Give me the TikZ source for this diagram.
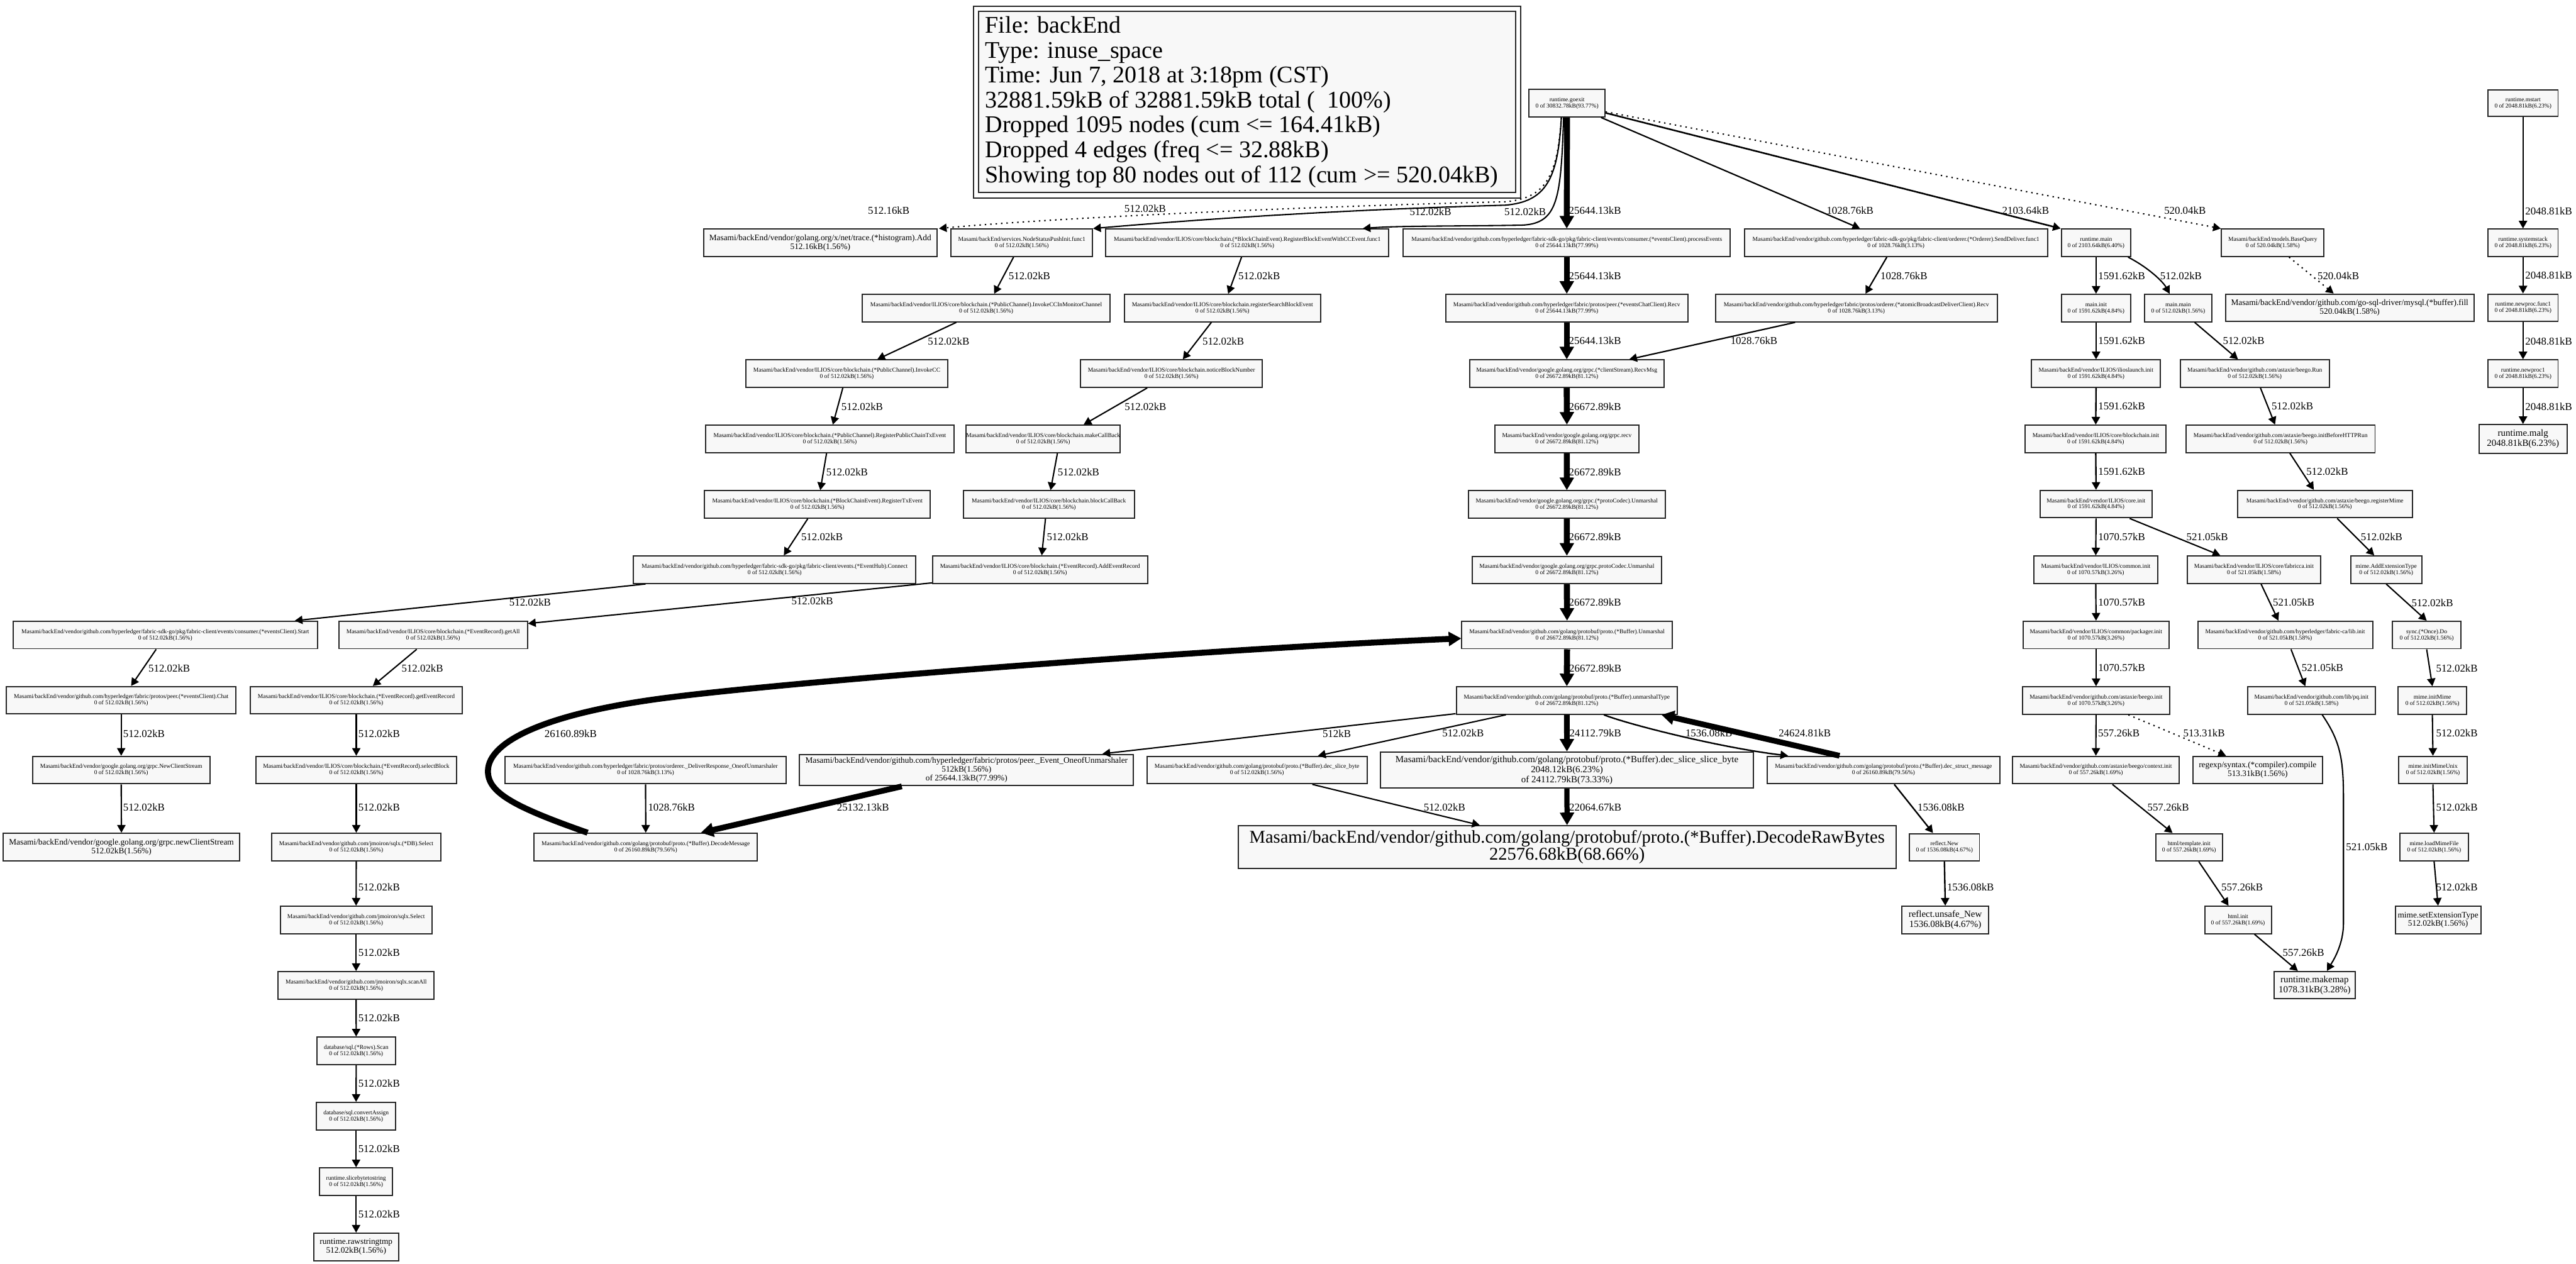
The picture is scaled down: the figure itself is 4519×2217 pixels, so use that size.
\documentclass[tikz,border=0pt]{standalone}
\usepackage{fontspec}
\setmainfont{Liberation Serif}
\usetikzlibrary{arrows.meta,calc}
\definecolor{nodefill}{HTML}{F8F8F8}
\newcommand\gn[7]{\node[#1,minimum width={#5*0.1mm},minimum height={#6*0.1mm}] (#2) at (#3,#4) {#7};}
\newcommand\lb[4]{\node[lab] (#1) at (#2,#3) {#4};}
\tikzset{
 box/.style={draw=black!85, fill=nodefill, line width=0.22mm, inner sep=0pt, align=center},
 sm/.style={box, font=\fontsize{2.99pt}{3.13pt}\selectfont},
 md/.style={box, font=\fontsize{4.18pt}{4.35pt}\selectfont},
 lgf/.style={box, font=\fontsize{4.69pt}{4.95pt}\selectfont},
 xl/.style={box, font=\fontsize{8.96pt}{8.7pt}\selectfont},
 lab/.style={inner sep=0pt, font=\fontsize{5.29pt}{5.6pt}\selectfont},
 hdrf/.style={inner sep=0pt, align=left, font=\fontsize{11.95pt}{12.43pt}\selectfont},
 ew/.style={line width=#1, -{Triangle[length=1.35mm,width=1.45mm]}},
 eT/.style={line width=#1, -{Triangle[length=2.2mm,width=2.4mm]}},
 dotedge/.style={line width=0.23mm, dash pattern=on 0.25mm off 0.7mm, -{Triangle[length=1.35mm,width=1.45mm]}},
}
\begin{document}
\begin{tikzpicture}[x=0.1mm,y=-0.1mm]
\path[use as bounding box, fill=white] (0,0) rectangle (4519,2217);

% legend
\node[box, minimum width={942*0.1mm}, minimum height={318*0.1mm}] (legend) at (2188,179) {};
\draw[line width=0.22mm, draw=black!85] ($(legend.north west)+(-8,-8)$) rectangle ($(legend.south east)+(8,8)$);
\node[hdrf, anchor=west] (legtext) at ($(legend.west)+(12,0)$) {File: backEnd\\Type: inuse\_space\\Time: Jun 7, 2018 at 3:18pm (CST)\\32881.59kB of 32881.59kB total (\ \ 100\%)\\Dropped 1095 nodes (cum <= 164.41kB)\\Dropped 4 edges (freq <= 32.88kB)\\Showing top 80 nodes out of 112 (cum >= 520.04kB)};

% nodes
\gn{sm}{goexit}{2749}{181}{133}{48}{runtime.goexit\\0 of 30832.78kB(93.77\%)}
\gn{sm}{mstart}{4426}{181}{123}{46}{runtime.mstart\\0 of 2048.81kB(6.23\%)}

\gn{md}{hist}{1439}{426}{410}{48}{Masami/backEnd/vendor/golang.org/x/net/trace.(*histogram).Add\\512.16kB(1.56\%)}
\gn{sm}{nsp}{1792.5}{426}{248}{48}{Masami/backEnd/services.NodeStatusPushInit.func1\\0 of 512.02kB(1.56\%)}
\gn{sm}{rbe}{2188}{426}{497}{48}{Masami/backEnd/vendor/ILIOS/core/blockchain.(*BlockChainEvent).RegisterBlockEventWithCCEvent.func1\\0 of 512.02kB(1.56\%)}
\gn{sm}{pe}{2748.5}{426}{574}{48}{Masami/backEnd/vendor/github.com/hyperledger/fabric-sdk-go/pkg/fabric-client/events/consumer.(*eventsClient).processEvents\\0 of 25644.13kB(77.99\%)}
\gn{sm}{sdf}{3326}{426}{532}{48}{Masami/backEnd/vendor/github.com/hyperledger/fabric-sdk-go/pkg/fabric-client/orderer.(*Orderer).SendDeliver.func1\\0 of 1028.76kB(3.13\%)}
\gn{sm}{rmain}{3677}{426}{122}{48}{runtime.main\\0 of 2103.64kB(6.40\%)}
\gn{sm}{bq}{3987}{426}{180}{48}{Masami/backEnd/models.BaseQuery\\0 of 520.04kB(1.58\%)}
\gn{sm}{sysst}{4426}{426}{123}{48}{runtime.systemstack\\0 of 2048.81kB(6.23\%)}

\gn{sm}{iccm}{1730}{540.5}{435}{48}{Masami/backEnd/vendor/ILIOS/core/blockchain.(*PublicChannel).InvokeCCInMonitorChannel\\0 of 512.02kB(1.56\%)}
\gn{sm}{rsbe}{2144.5}{540.5}{344}{48}{Masami/backEnd/vendor/ILIOS/core/blockchain.registerSearchBlockEvent\\0 of 512.02kB(1.56\%)}
\gn{sm}{ecr}{2748.5}{540.5}{425}{48}{Masami/backEnd/vendor/github.com/hyperledger/fabric/protos/peer.(*eventsChatClient).Recv\\0 of 25644.13kB(77.99\%)}
\gn{sm}{abr}{3256.5}{540.5}{494}{48}{Masami/backEnd/vendor/github.com/hyperledger/fabric/protos/orderer.(*atomicBroadcastDeliverClient).Recv\\0 of 1028.76kB(3.13\%)}
\gn{sm}{minit}{3677}{540.5}{122}{48}{main.init\\0 of 1591.62kB(4.84\%)}
\gn{sm}{mmain}{3821}{540.5}{117.5}{48}{main.main\\0 of 512.02kB(1.56\%)}
\gn{md}{mysql}{4122}{540}{436}{48}{Masami/backEnd/vendor/github.com/go-sql-driver/mysql.(*buffer).fill\\520.04kB(1.58\%)}
\gn{sm}{npf}{4426}{540}{123}{48}{runtime.newproc.func1\\0 of 2048.81kB(6.23\%)}

\gn{sm}{icc}{1485.5}{655.5}{354}{48}{Masami/backEnd/vendor/ILIOS/core/blockchain.(*PublicChannel).InvokeCC\\0 of 512.02kB(1.56\%)}
\gn{sm}{nbn}{2055}{655.5}{319}{48}{Masami/backEnd/vendor/ILIOS/core/blockchain.noticeBlockNumber\\0 of 512.02kB(1.56\%)}
\gn{sm}{rmsg}{2748.5}{655.5}{341}{48}{Masami/backEnd/vendor/google.golang.org/grpc.(*clientStream).RecvMsg\\0 of 26672.89kB(81.12\%)}
\gn{sm}{ilaunch}{3677}{655.5}{226}{48}{Masami/backEnd/vendor/ILIOS/ilioslaunch.init\\0 of 1591.62kB(4.84\%)}
\gn{sm}{brun}{3955.4}{655.5}{261.6}{48}{Masami/backEnd/vendor/github.com/astaxie/beego.Run\\0 of 512.02kB(1.56\%)}
\gn{sm}{npa}{4426}{655.5}{123}{48}{runtime.newproc1\\0 of 2048.81kB(6.23\%)}

\gn{sm}{rpct}{1455.7}{770}{435}{48}{Masami/backEnd/vendor/ILIOS/core/blockchain.(*PublicChannel).RegisterPublicChainTxEvent\\0 of 512.02kB(1.56\%)}
\gn{sm}{mcb}{1830}{770}{260}{48}{Masami/backEnd/vendor/ILIOS/core/blockchain.makeCallBack\\0 of 512.02kB(1.56\%)}
\gn{sm}{grecv}{2748.7}{770}{252}{48}{Masami/backEnd/vendor/google.golang.org/grpc.recv\\0 of 26672.89kB(81.12\%)}
\gn{sm}{bcinit}{3676.5}{770}{247}{48}{Masami/backEnd/vendor/ILIOS/core/blockchain.init\\0 of 1591.62kB(4.84\%)}
\gn{sm}{ibhr}{4000.6}{770}{331.7}{48}{Masami/backEnd/vendor/github.com/astaxie/beego.initBeforeHTTPRun\\0 of 512.02kB(1.56\%)}
\gn{lgf}{malg}{4426}{770}{154.6}{50}{runtime.malg\\2048.81kB(6.23\%)}

\gn{sm}{rte}{1434}{885}{396}{48}{Masami/backEnd/vendor/ILIOS/core/blockchain.(*BlockChainEvent).RegisterTxEvent\\0 of 512.02kB(1.56\%)}
\gn{sm}{bcb}{1840}{885}{300}{48}{Masami/backEnd/vendor/ILIOS/core/blockchain.blockCallBack\\0 of 512.02kB(1.56\%)}
\gn{sm}{pcu}{2748.6}{885}{345}{48}{Masami/backEnd/vendor/google.golang.org/grpc.(*protoCodec).Unmarshal\\0 of 26672.89kB(81.12\%)}
\gn{sm}{cinit}{3677}{884.5}{196.4}{48}{Masami/backEnd/vendor/ILIOS/core.init\\0 of 1591.62kB(4.84\%)}
\gn{sm}{rmime}{4078.5}{884.5}{307}{48}{Masami/backEnd/vendor/github.com/astaxie/beego.registerMime\\0 of 512.02kB(1.56\%)}

\gn{sm}{ehc}{1359}{999.5}{495}{48}{Masami/backEnd/vendor/github.com/hyperledger/fabric-sdk-go/pkg/fabric-client/events.(*EventHub).Connect\\0 of 512.02kB(1.56\%)}
\gn{sm}{aer}{1824.5}{999.5}{377}{48}{Masami/backEnd/vendor/ILIOS/core/blockchain.(*EventRecord).AddEventRecord\\0 of 512.02kB(1.56\%)}
\gn{sm}{pcv}{2748.7}{1000}{332}{48}{Masami/backEnd/vendor/google.golang.org/grpc.protoCodec.Unmarshal\\0 of 26672.89kB(81.12\%)}
\gn{sm}{comi}{3676.5}{999.5}{216.5}{48}{Masami/backEnd/vendor/ILIOS/common.init\\0 of 1070.57kB(3.26\%)}
\gn{sm}{fca}{3954}{999.5}{234}{48}{Masami/backEnd/vendor/ILIOS/core/fabricca.init\\0 of 521.05kB(1.58\%)}
\gn{sm}{maet}{4186}{999.5}{125}{48}{mime.AddExtensionType\\0 of 512.02kB(1.56\%)}

\gn{sm}{start}{290}{1114}{534}{48}{Masami/backEnd/vendor/github.com/hyperledger/fabric-sdk-go/pkg/fabric-client/events/consumer.(*eventsClient).Start\\0 of 512.02kB(1.56\%)}
\gn{sm}{getall}{759.7}{1114}{331}{48}{Masami/backEnd/vendor/ILIOS/core/blockchain.(*EventRecord).getAll\\0 of 512.02kB(1.56\%)}
\gn{sm}{bunm}{2749}{1114}{369}{48}{Masami/backEnd/vendor/github.com/golang/protobuf/proto.(*Buffer).Unmarshal\\0 of 26672.89kB(81.12\%)}
\gn{sm}{pkg}{3677}{1114}{256}{48}{Masami/backEnd/vendor/ILIOS/common/packager.init\\0 of 1070.57kB(3.26\%)}
\gn{sm}{fcalib}{4008.7}{1114}{306.7}{48}{Masami/backEnd/vendor/github.com/hyperledger/fabric-ca/lib.init\\0 of 521.05kB(1.58\%)}
\gn{sm}{once}{4257}{1114}{120}{48}{sync.(*Once).Do\\0 of 512.02kB(1.56\%)}

\gn{sm}{chat}{212.6}{1228.5}{403}{48}{Masami/backEnd/vendor/github.com/hyperledger/fabric/protos/peer.(*eventsClient).Chat\\0 of 512.02kB(1.56\%)}
\gn{sm}{ger}{625}{1228.5}{372}{48}{Masami/backEnd/vendor/ILIOS/core/blockchain.(*EventRecord).getEventRecord\\0 of 512.02kB(1.56\%)}
\gn{sm}{umt}{2748.6}{1229}{388}{48}{Masami/backEnd/vendor/github.com/golang/protobuf/proto.(*Buffer).unmarshalType\\0 of 26672.89kB(81.12\%)}
\gn{sm}{binit}{3677}{1229}{258}{48}{Masami/backEnd/vendor/github.com/astaxie/beego.init\\0 of 1070.57kB(3.26\%)}
\gn{sm}{pq}{4055}{1229}{225}{48}{Masami/backEnd/vendor/github.com/lib/pq.init\\0 of 521.05kB(1.58\%)}
\gn{sm}{imime}{4267}{1229}{120}{48}{mime.initMime\\0 of 512.02kB(1.56\%)}

\gn{sm}{ncs}{212.6}{1351}{311}{48}{Masami/backEnd/vendor/google.golang.org/grpc.NewClientStream\\0 of 512.02kB(1.56\%)}
\gn{sm}{sblk}{625}{1351}{353}{48}{Masami/backEnd/vendor/ILIOS/core/blockchain.(*EventRecord).selectBlock\\0 of 512.02kB(1.56\%)}
\gn{sm}{dro}{1132.5}{1351}{493}{48}{Masami/backEnd/vendor/github.com/hyperledger/fabric/protos/orderer.\_DeliverResponse\_OneofUnmarshaler\\0 of 1028.76kB(3.13\%)}
\gn{md}{eou}{1695.5}{1351}{586}{55}{Masami/backEnd/vendor/github.com/hyperledger/fabric/protos/peer.\_Event\_OneofUnmarshaler\\512kB(1.56\%)\\of 25644.13kB(77.99\%)}
\gn{sm}{dsb}{2205}{1351}{386}{48}{Masami/backEnd/vendor/github.com/golang/protobuf/proto.(*Buffer).dec\_slice\_byte\\0 of 512.02kB(1.56\%)}
\gn{lgf}{dssb}{2748.8}{1351}{653.5}{63}{Masami/backEnd/vendor/github.com/golang/protobuf/proto.(*Buffer).dec\_slice\_slice\_byte\\2048.12kB(6.23\%)\\of 24112.79kB(73.33\%)}
\gn{sm}{dsm}{3304}{1351}{408}{48}{Masami/backEnd/vendor/github.com/golang/protobuf/proto.(*Buffer).dec\_struct\_message\\0 of 26160.89kB(79.56\%)}
\gn{sm}{ctx}{3676.7}{1351}{292}{48}{Masami/backEnd/vendor/github.com/astaxie/beego/context.init\\0 of 557.26kB(1.69\%)}
\gn{md}{rgx}{3960.5}{1351}{226.6}{48}{regexp/syntax.(*compiler).compile\\513.31kB(1.56\%)}
\gn{sm}{imu}{4268}{1351}{120}{48}{mime.initMimeUnix\\0 of 512.02kB(1.56\%)}

\gn{md}{ncsb}{213}{1486}{415.5}{48}{Masami/backEnd/vendor/google.golang.org/grpc.newClientStream\\512.02kB(1.56\%)}
\gn{sm}{dbsel}{625}{1486}{296}{48}{Masami/backEnd/vendor/github.com/jmoiron/sqlx.(*DB).Select\\0 of 512.02kB(1.56\%)}
\gn{sm}{dmsg}{1132.8}{1486}{392}{48}{Masami/backEnd/vendor/github.com/golang/protobuf/proto.(*Buffer).DecodeMessage\\0 of 26160.89kB(79.56\%)}
\gn{xl}{drb}{2749}{1486}{1154}{74.5}{Masami/backEnd/vendor/github.com/golang/protobuf/proto.(*Buffer).DecodeRawBytes\\22576.68kB(68.66\%)}
\gn{sm}{rnew}{3411}{1486.5}{123}{48}{reflect.New\\0 of 1536.08kB(4.67\%)}
\gn{sm}{htpl}{3840.2}{1486.5}{117}{48}{html/template.init\\0 of 557.26kB(1.69\%)}
\gn{sm}{lmf}{4270}{1486}{120}{48}{mime.loadMimeFile\\0 of 512.02kB(1.56\%)}

\gn{sm}{sqsel}{624.7}{1614}{266}{48}{Masami/backEnd/vendor/github.com/jmoiron/sqlx.Select\\0 of 512.02kB(1.56\%)}
\gn{lgf}{unew}{3412.5}{1614}{153}{48}{reflect.unsafe\_New\\1536.08kB(4.67\%)}
\gn{sm}{hinit}{3926}{1614}{117}{48}{html.init\\0 of 557.26kB(1.69\%)}
\gn{md}{setx}{4277}{1614}{150}{48}{mime.setExtensionType\\512.02kB(1.56\%)}

\gn{sm}{scan}{624.7}{1728.7}{274}{48}{Masami/backEnd/vendor/github.com/jmoiron/sqlx.scanAll\\0 of 512.02kB(1.56\%)}
\gn{lgf}{mkmap}{4060.4}{1728.5}{142.4}{48}{runtime.makemap\\1078.31kB(3.28\%)}
\gn{sm}{rscan}{624.8}{1843.6}{137.7}{48}{database/sql.(*Rows).Scan\\0 of 512.02kB(1.56\%)}
\gn{sm}{conv}{624.7}{1958.2}{139}{48}{database/sql.convertAssign\\0 of 512.02kB(1.56\%)}
\gn{sm}{sbts}{624.7}{2073}{128}{48}{runtime.slicebytetostring\\0 of 512.02kB(1.56\%)}
\gn{md}{rst}{624.7}{2187.6}{149}{48}{runtime.rawstringtmp\\512.02kB(1.56\%)}

% edges from goexit
\draw[dotedge] ($(goexit.south)+(-10,0)$) .. controls (2732,310) and (2712,348) .. (2640,354) .. controls (2300,362) and (1850,382) .. ($(hist.north east)+(2,0)$);
\draw[ew=0.23mm] ($(goexit.south)+(-10,0)$) .. controls (2733,315) and (2712,354) .. (2640,360) .. controls (2350,368) and (2100,385) .. (nsp.north east);
\draw[ew=0.23mm] ($(goexit.south)+(-6,0)$) .. controls (2738,350) and (2733,392) .. (2670,395) .. controls (2560,397) and (2450,396) .. ($(rbe.north east)+(-47,0)$);
\draw[eT=1.03mm] (goexit.south) -- (pe.north);
\draw[ew=0.24mm] ($(goexit.south east)+(-8,0)$) -- ($(sdf.north)+(-63,0)$);
\draw[ew=0.28mm] ($(goexit.south east)+(0,-8)$) -- (rmain.north west);
\draw[dotedge] ($(goexit.south east)+(0,-10)$) -- (bq.north west);

% central chain
\draw[eT=1.03mm] (pe.south) -- (ecr.north);
\draw[eT=1.03mm] (ecr.south) -- (rmsg.north);
\draw[ew=0.24mm] ($(sdf.south)+(-16,0)$) -- ($(abr.north)+(16,0)$);
\draw[ew=0.24mm] ($(abr.south)+(-107.5,0)$) -- ($(rmsg.north east)+(-62,0)$);
\draw[eT=1.06mm] (rmsg.south) -- (grecv.north);
\draw[eT=1.06mm] (grecv.south) -- (pcu.north);
\draw[eT=1.06mm] (pcu.south) -- (pcv.north);
\draw[eT=1.06mm] (pcv.south) -- (bunm.north);
\draw[eT=1.06mm] (bunm.south) -- (umt.north);
\draw[eT=0.98mm] (umt.south) -- (dssb.north);
\draw[eT=0.91mm] (dssb.south) -- (drb.north);
\draw[ew=0.26mm] ($(umt.south)+(65,0)$) .. controls (2860,1272) and (3020,1312) .. ($(dsm.north west)+(38,0)$);
\draw[eT=1.0mm] ($(dsm.north)+(-77,0)$) -- ($(umt.south east)+(-29,0)$);
\draw[ew=0.23mm] ($(umt.south)+(-107,0)$) -- ($(dsb.north)+(107,0)$);
\draw[ew=0.23mm] ($(umt.south west)+(0,-2)$) -- ($(eou.north east)+(-55.6,0)$);
\draw[ew=0.23mm] ($(dsb.south)+(97,0)$) -- ($(drb.north west)+(425,0)$);
\draw[eT=1.01mm] ($(eou.south)+(-113.5,0)$) -- ($(dmsg.north east)+(-100.5,0)$);
\draw[ew=0.24mm] (dro.south) -- (dmsg.north);
\draw[eT=1.05mm] ($(dmsg.north)+(-102,0)$) .. controls (900,1415) and (855,1390) .. (856,1352) .. controls (857,1300) and (960,1250) .. (1179,1223) .. controls (1400,1195) and (2100,1140) .. ($(bunm.west)+(0,6)$);
\draw[ew=0.26mm] ($(dsm.south)+(19,0)$) -- ($(rnew.north)+(-20,0)$);
\draw[ew=0.26mm] (rnew.south) -- (unew.north);

% left-middle chains
\draw[ew=0.23mm] ($(nsp.south)+(-14.5,0)$) -- ($(iccm.north)+(14,0)$);
\draw[ew=0.23mm] ($(rbe.south)+(-10,0)$) -- ($(rsbe.north)+(10,0)$);
\draw[ew=0.23mm] ($(iccm.south)+(-52.5,0)$) -- ($(icc.north)+(53.5,0)$);
\draw[ew=0.23mm] ($(rsbe.south)+(-19.5,0)$) -- ($(nbn.north)+(20,0)$);
\draw[ew=0.23mm] ($(icc.south)+(-7,0)$) -- ($(rpct.north)+(5.3,0)$);
\draw[ew=0.23mm] ($(nbn.south)+(-42.5,0)$) -- ($(mcb.north)+(71,0)$);
\draw[ew=0.23mm] ($(rpct.south)+(-5.7,0)$) -- ($(rte.north)+(5,0)$);
\draw[ew=0.23mm] ($(mcb.south)+(25,0)$) -- ($(bcb.north)+(3,0)$);
\draw[ew=0.23mm] ($(rte.south)+(-17,0)$) -- ($(ehc.north)+(16,0)$);
\draw[ew=0.23mm] ($(bcb.south)+(-6,0)$) -- ($(aer.north)+(3,0)$);
\draw[ew=0.23mm] ($(ehc.south west)+(22,0)$) -- ($(start.north east)+(-41,0)$);
\draw[ew=0.23mm] ($(aer.south west)+(0,-2)$) -- ($(getall.north east)+(0,5)$);
\draw[ew=0.23mm] ($(start.south)+(-16,0)$) -- ($(chat.north)+(17.4,0)$);
\draw[ew=0.23mm] ($(getall.south)+(-28.7,0)$) -- ($(ger.north)+(29,0)$);
\draw[ew=0.23mm] (chat.south) -- (ncs.north);
\draw[ew=0.23mm] (ger.south) -- (sblk.north);
\draw[ew=0.23mm] (ncs.south) -- (ncsb.north);
\draw[ew=0.23mm] (sblk.south) -- (dbsel.north);
\draw[ew=0.23mm] (dbsel.south) -- (sqsel.north);
\draw[ew=0.23mm] (sqsel.south) -- (scan.north);
\draw[ew=0.23mm] (scan.south) -- (rscan.north);
\draw[ew=0.23mm] (rscan.south) -- (conv.north);
\draw[ew=0.23mm] (conv.south) -- (sbts.north);
\draw[ew=0.23mm] (sbts.south) -- (rst.north);

% right side
\draw[ew=0.26mm] (rmain.south) -- (minit.north);
\draw[ew=0.23mm] ($(rmain.south east)+(-6,0)$) .. controls (3770,470) and (3795,495) .. ($(mmain.north)+(-15,0)$);
\draw[dotedge] ($(bq.south)+(28.6,0)$) -- ($(mysql.north)+(-28.2,0)$);
\draw[ew=0.26mm] (minit.south) -- (ilaunch.north);
\draw[ew=0.23mm] ($(mmain.south)+(29,0)$) -- ($(brun.north)+(-29.4,0)$);
\draw[ew=0.26mm] (ilaunch.south) -- (bcinit.north);
\draw[ew=0.23mm] ($(brun.south)+(10,0)$) -- ($(ibhr.north)+(-9.6,0)$);
\draw[ew=0.26mm] (bcinit.south) -- (cinit.north);
\draw[ew=0.23mm] ($(ibhr.south)+(16.4,0)$) -- ($(rmime.north)+(-19.5,0)$);
\draw[ew=0.24mm] (cinit.south) -- (comi.north);
\draw[ew=0.23mm] ($(cinit.south)+(59,0)$) -- ($(fca.north)+(-59,0)$);
\draw[ew=0.23mm] ($(rmime.south)+(21.5,0)$) -- ($(maet.north)+(-21,0)$);
\draw[ew=0.24mm] (comi.south) -- (pkg.north);
\draw[ew=0.23mm] ($(fca.south)+(12.5,0)$) -- ($(fcalib.north)+(-11.8,0)$);
\draw[ew=0.23mm] (maet.south) -- (once.north);
\draw[ew=0.24mm] (pkg.south) -- (binit.north);
\draw[ew=0.23mm] ($(fcalib.south)+(10.3,0)$) -- ($(pq.north)+(-11,0)$);
\draw[ew=0.23mm] (once.south) -- (imime.north);
\draw[ew=0.23mm] (binit.south) -- (ctx.north);
\draw[dotedge] ($(binit.south)+(56.7,0)$) -- ($(rgx.north)+(-55.5,0)$);
\draw[ew=0.23mm] (imime.south) -- (imu.north);
\draw[ew=0.23mm] ($(ctx.south)+(29,0)$) -- ($(htpl.north)+(-29,0)$);
\draw[ew=0.23mm] (imu.south) -- (lmf.north);
\draw[ew=0.23mm] ($(htpl.south)+(17,0)$) -- ($(hinit.north)+(-16.6,0)$);
\draw[ew=0.23mm] (lmf.south) -- (setx.north);
\draw[ew=0.23mm] ($(hinit.south)+(29,0)$) -- ($(mkmap.north)+(-29.4,0)$);
\draw[ew=0.23mm] ($(pq.south)+(18.8,0)$) .. controls (4105,1300) and (4111,1330) .. (4111,1400) -- (4111,1620) .. controls (4111,1660) and (4090,1690) .. ($(mkmap.north)+(21.6,0)$);
\draw[ew=0.275mm] (mstart.south) -- (sysst.north);
\draw[ew=0.275mm] (sysst.south) -- (npf.north);
\draw[ew=0.275mm] (npf.south) -- (npa.north);
\draw[ew=0.275mm] (npa.south) -- (malg.north);

% edge labels
\lb{la1}{1559}{369.5}{512.16kB}
\lb{la2}{2009}{366}{512.02kB}
\lb{la3}{2509.5}{372}{512.02kB}
\lb{la4}{2675.6}{372}{512.02kB}
\lb{la5}{2798}{369.5}{25644.13kB}
\lb{la6}{3245.5}{369.5}{1028.76kB}
\lb{la7}{3553.5}{369.5}{2103.64kB}
\lb{la8}{3833}{369.5}{520.04kB}
\lb{la9}{4471}{370}{2048.81kB}

\lb{lb1}{1806}{484.3}{512.02kB}
\lb{lb2}{2209}{484.3}{512.02kB}
\lb{lb3}{2798}{484.2}{25644.13kB}
\lb{lb4}{3340}{484.2}{1028.76kB}
\lb{lb5}{3722}{483.9}{1591.62kB}
\lb{lb6}{3826}{483.9}{512.02kB}
\lb{lb7}{4102}{483.9}{520.04kB}
\lb{lb8}{4471}{483}{2048.81kB}

\lb{lc1}{1664}{598.3}{512.02kB}
\lb{lc2}{2146}{598.3}{512.02kB}
\lb{lc3}{2798}{598.2}{25644.13kB}
\lb{lc4}{3077}{598.2}{1028.76kB}
\lb{lc5}{3722}{597.8}{1591.62kB}
\lb{lc6}{3936}{597.8}{512.02kB}
\lb{lc7}{4471}{599}{2048.81kB}

\lb{ld1}{1512.5}{713.3}{512.02kB}
\lb{ld2}{2009.5}{713.3}{512.02kB}
\lb{ld3}{2798}{713.7}{26672.89kB}
\lb{ld4}{3722}{712.7}{1591.62kB}
\lb{ld5}{4021.4}{712.7}{512.02kB}
\lb{ld6}{4471}{713}{2048.81kB}

\lb{le1}{1486}{828.3}{512.02kB}
\lb{le2}{1892}{828.3}{512.02kB}
\lb{le3}{2798}{828.3}{26672.89kB}
\lb{le4}{3722}{827.1}{1591.62kB}
\lb{le5}{4082.6}{827.1}{512.02kB}

\lb{lf1}{1442}{941.7}{512.02kB}
\lb{lf2}{1873}{941.7}{512.02kB}
\lb{lf3}{2798}{941.7}{26672.89kB}
\lb{lf4}{3722}{942}{1070.57kB}
\lb{lf5}{3872}{942}{521.05kB}
\lb{lf6}{4178}{942}{512.02kB}

\lb{lg1}{930}{1057}{512.02kB}
\lb{lg2}{1425}{1055}{512.02kB}
\lb{lg3}{2798}{1056.7}{26672.89kB}
\lb{lg4}{3722}{1056.9}{1070.57kB}
\lb{lg5}{4023.7}{1056.9}{521.05kB}
\lb{lg6}{4267}{1057.5}{512.02kB}

\lb{lh1}{297}{1172.7}{512.02kB}
\lb{lh2}{741}{1172.7}{512.02kB}
\lb{lh3}{2798.6}{1172.4}{26672.89kB}
\lb{lh4}{3722}{1171.8}{1070.57kB}
\lb{lh5}{4074.3}{1171.8}{521.05kB}
\lb{lh6}{4310}{1172.5}{512.02kB}

\lb{li1}{252.6}{1286.7}{512.02kB}
\lb{li2}{665}{1286.7}{512.02kB}
\lb{li3}{1001}{1286.7}{26160.89kB}
\lb{li4}{2345}{1286.7}{512kB}
\lb{li5}{2566.6}{1286.4}{512.02kB}
\lb{li6}{2798.6}{1286.4}{24112.79kB}
\lb{li7}{2997.8}{1286.4}{1536.08kB}
\lb{li8}{3166}{1286.4}{24624.81kB}
\lb{li9}{3717}{1285.8}{557.26kB}
\lb{li10}{3866.5}{1285.8}{513.31kB}
\lb{li11}{4310}{1286}{512.02kB}

\lb{lj1}{252.6}{1416.7}{512.02kB}
\lb{lj2}{665}{1416.7}{512.02kB}
\lb{lj3}{1178}{1416.7}{1028.76kB}
\lb{lj4}{1514}{1416.7}{25132.13kB}
\lb{lj5}{2534}{1416}{512.02kB}
\lb{lj6}{2798.6}{1416}{22064.67kB}
\lb{lj7}{3405}{1416.4}{1536.08kB}
\lb{lj8}{3803.6}{1416.4}{557.26kB}
\lb{lj9}{4310}{1416}{512.02kB}
\lb{lj10}{4152}{1485.7}{521.05kB}

\lb{lk1}{665}{1556.4}{512.02kB}
\lb{lk2}{3456.8}{1556.6}{1536.08kB}
\lb{lk3}{3933.2}{1556.6}{557.26kB}
\lb{lk4}{4310}{1556}{512.02kB}

\lb{ll1}{665}{1671.6}{512.02kB}
\lb{ll2}{4040.9}{1671.4}{557.26kB}
\lb{lm1}{665}{1785.8}{512.02kB}
\lb{lm2}{665}{1900.4}{512.02kB}
\lb{lm3}{665}{2015.6}{512.02kB}
\lb{lm4}{665}{2129.8}{512.02kB}
\end{tikzpicture}
\end{document}
